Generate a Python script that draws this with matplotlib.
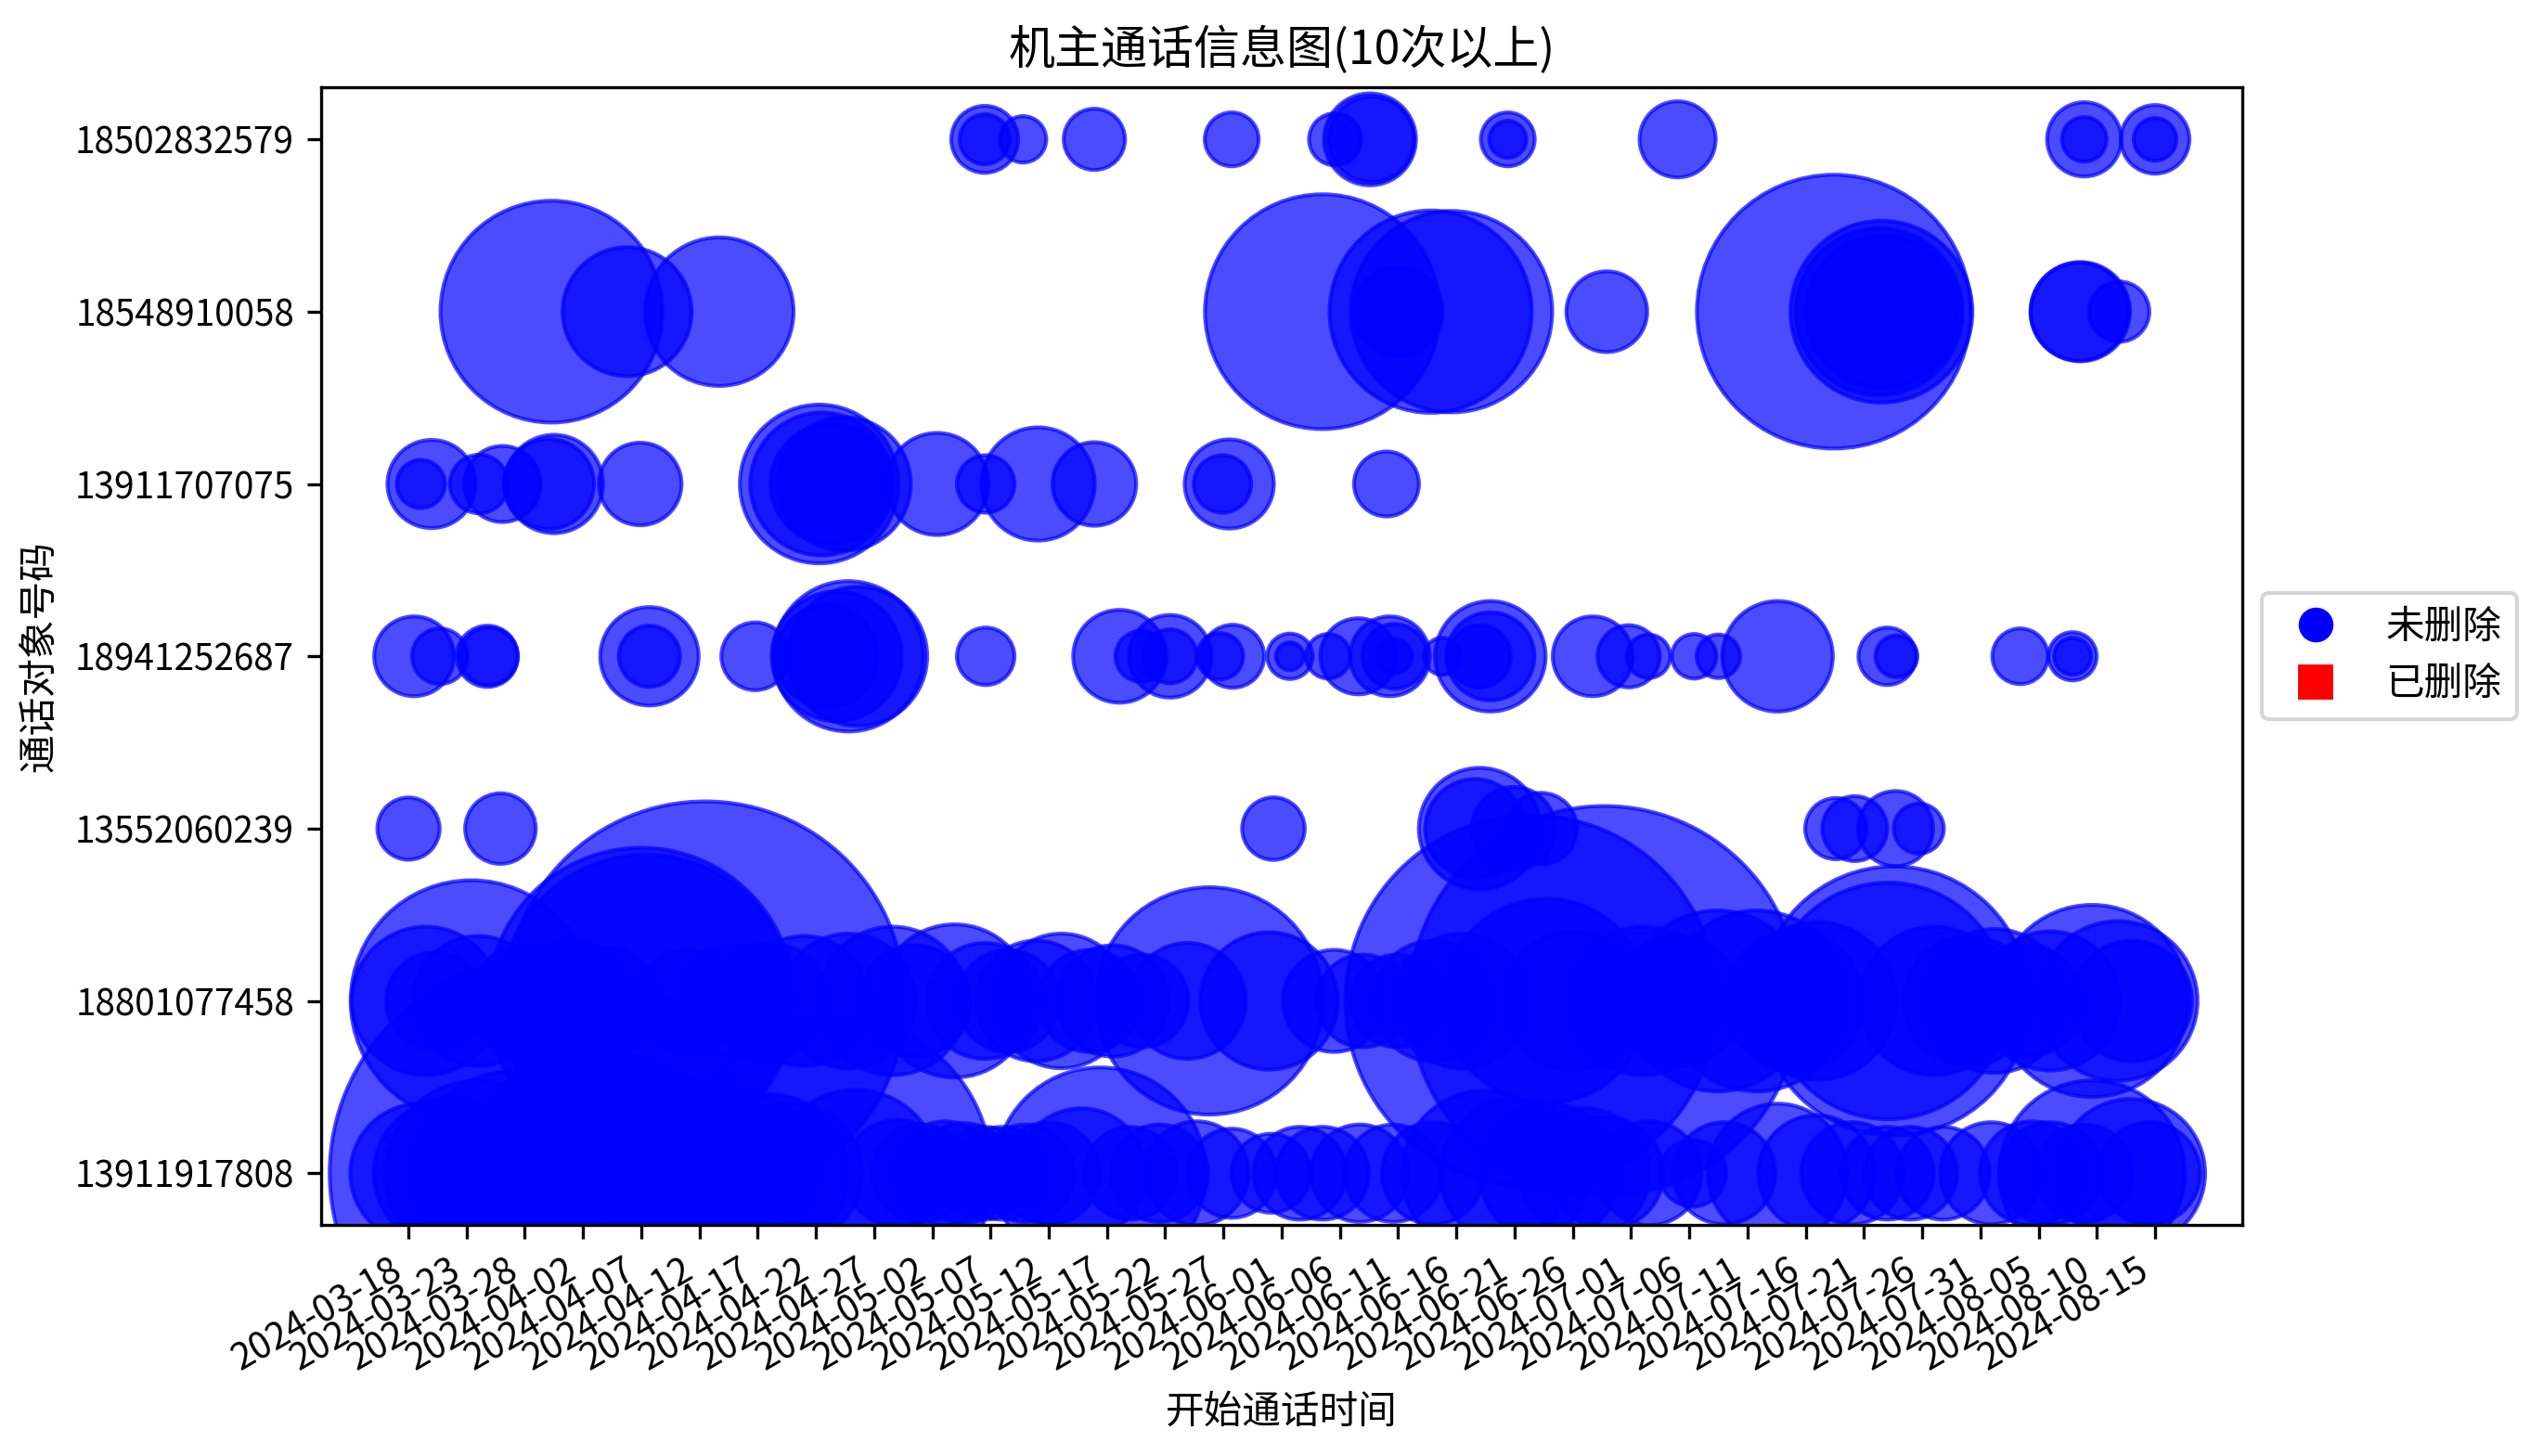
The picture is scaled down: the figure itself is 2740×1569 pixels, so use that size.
import matplotlib
matplotlib.use('Agg')
import pandas as pd
import matplotlib.pyplot as plt
import matplotlib.dates as mdates
from matplotlib.lines import Line2D

plt.rcParams['font.family'] = ['Noto Sans CJK SC', 'DejaVu Sans']
plt.rcParams['axes.unicode_minus'] = False

# called numbers, bottom to top
numbers = ['13911917808', '18801077458', '13552060239', '18941252687',
           '13911707075', '18548910058', '18502832579']

# call start times and bubble sizes per number
t_13911917808 = ['2024-03-19 00:00', '2024-03-21 10:00', '2024-03-24 00:00', '2024-03-27 00:00',
                 '2024-03-29 14:00', '2024-04-01 00:00', '2024-04-04 00:00', '2024-04-07 00:00',
                 '2024-04-11 00:00', '2024-04-15 00:00', '2024-04-18 00:00', '2024-04-20 00:00',
                 '2024-04-23 17:00', '2024-04-25 10:00', '2024-04-29 00:00', '2024-05-01 00:00',
                 '2024-05-03 02:00', '2024-05-04 17:00', '2024-05-06 12:00', '2024-05-08 00:00',
                 '2024-05-10 00:00', '2024-05-12 00:00', '2024-05-14 19:00', '2024-05-16 10:00',
                 '2024-05-19 00:00', '2024-05-21 12:00', '2024-05-24 17:00', '2024-05-27 17:00',
                 '2024-05-31 02:00', '2024-06-02 14:00', '2024-06-04 12:00', '2024-06-07 17:00',
                 '2024-06-10 14:00', '2024-06-14 00:00', '2024-06-18 10:00', '2024-06-21 00:00',
                 '2024-06-24 00:00', '2024-06-27 00:00', '2024-06-29 00:00', '2024-07-02 14:00',
                 '2024-07-06 07:00', '2024-07-09 00:00', '2024-07-13 14:00', '2024-07-16 22:00',
                 '2024-07-20 00:00', '2024-07-23 00:00', '2024-07-25 00:00', '2024-07-27 19:00',
                 '2024-07-31 22:00', '2024-08-04 10:00', '2024-08-06 00:00', '2024-08-08 22:00',
                 '2024-08-09 14:00', '2024-08-12 22:00', '2024-08-14 12:00']
s_13911917808 = [1296, 1475, 2304, 2788, 12188, 3318, 3894, 3047,
                 2304, 1866, 1665, 1296, 6503, 1866, 762, 635,
                 722, 672, 576, 576, 635, 697, 1129, 2994,
                 576, 635, 722, 531, 416, 576, 576, 635,
                 635, 697, 1825, 1475, 1296, 1129, 829, 722,
                 299, 697, 1296, 900, 697, 576, 576, 576,
                 697, 722, 697, 635, 2304, 1475, 697]

t_18801077458 = ['2024-03-19 12:00', '2024-03-20 07:00', '2024-03-23 10:00', '2024-03-24 00:00',
                 '2024-03-28 00:00', '2024-04-01 00:00', '2024-04-04 00:00', '2024-04-07 00:00',
                 '2024-04-07 10:00', '2024-04-11 00:00', '2024-04-12 12:00', '2024-04-15 00:00',
                 '2024-04-18 00:00', '2024-04-21 00:00', '2024-04-24 19:00', '2024-04-28 14:00',
                 '2024-04-30 12:00', '2024-05-03 22:00', '2024-05-06 12:00', '2024-05-08 12:00',
                 '2024-05-10 22:00', '2024-05-13 02:00', '2024-05-15 12:00', '2024-05-17 12:00',
                 '2024-05-20 00:00', '2024-05-23 22:00', '2024-05-25 19:00', '2024-05-30 22:00',
                 '2024-06-05 12:00', '2024-06-08 00:00', '2024-06-10 22:00', '2024-06-14 00:00',
                 '2024-06-16 10:00', '2024-06-22 10:00', '2024-06-23 17:00', '2024-06-26 00:00',
                 '2024-06-28 17:00', '2024-07-02 00:00', '2024-07-05 00:00', '2024-07-08 10:00',
                 '2024-07-11 19:00', '2024-07-15 00:00', '2024-07-17 00:00', '2024-07-23 02:00',
                 '2024-07-23 14:00', '2024-07-27 00:00', '2024-07-30 00:00', '2024-08-01 05:00',
                 '2024-08-04 00:00', '2024-08-06 00:00', '2024-08-09 14:00', '2024-08-11 19:00',
                 '2024-08-13 00:00']
s_18801077458 = [1475, 635, 3894, 1129, 829, 973, 762, 6273,
                 5715, 697, 10650, 829, 900, 1129, 1211, 1475,
                 829, 1568, 900, 697, 973, 1211, 697, 829,
                 576, 900, 3457, 1262, 697, 576, 576, 973,
                 1211, 9216, 2788, 1296, 10161, 1475, 1129, 2190,
                 2190, 1296, 1665, 3745, 4844, 1475, 1129, 1384,
                 829, 1296, 2468, 1704, 973]

t_13552060239 = ['2024-03-18 00:30', '2024-03-25 22:00', '2024-05-31 07:00', '2024-06-17 14:00',
                 '2024-06-18 00:00', '2024-06-20 22:00', '2024-06-23 07:00', '2024-07-18 14:00',
                 '2024-07-20 05:00', '2024-07-23 17:00', '2024-07-25 17:00']
s_13552060239 = [259, 333, 262, 659, 988, 467, 342, 251, 282, 378, 168]

t_18941252687 = ['2024-03-18 12:00', '2024-03-20 17:00', '2024-03-24 19:00', '2024-03-24 22:00',
                 '2024-04-07 17:00', '2024-04-07 17:00', '2024-04-16 19:00', '2024-04-22 22:00',
                 '2024-04-23 19:00', '2024-04-24 19:00', '2024-04-25 14:00', '2024-05-06 14:00',
                 '2024-05-18 02:00', '2024-05-19 22:00', '2024-05-22 10:00', '2024-05-22 10:00',
                 '2024-05-26 17:00', '2024-05-27 19:00', '2024-06-01 17:00', '2024-06-01 17:00',
                 '2024-06-05 00:00', '2024-06-07 14:00', '2024-06-10 07:00', '2024-06-10 17:00',
                 '2024-06-10 17:00', '2024-06-14 19:00', '2024-06-18 00:00', '2024-06-18 22:00',
                 '2024-06-18 22:00', '2024-06-27 17:00', '2024-06-30 19:00', '2024-07-02 12:00',
                 '2024-07-06 10:00', '2024-07-08 12:00', '2024-07-13 14:00', '2024-07-23 00:00',
                 '2024-07-23 19:00', '2024-08-03 10:00', '2024-08-07 22:00', '2024-08-07 22:00']
s_18941252687 = [426, 207, 251, 221, 647, 251, 307, 697,
                 1129, 1512, 1296, 221, 576, 174, 456, 194,
                 144, 266, 138, 52, 133, 387, 426, 282,
                 79, 92, 259, 816, 520, 426, 259, 127,
                 133, 127, 816, 221, 117, 207, 156, 92]

t_13911707075 = ['2024-03-19 02:00', '2024-03-20 00:00', '2024-03-24 02:00', '2024-03-26 02:00',
                 '2024-03-30 02:00', '2024-03-30 12:00', '2024-04-06 22:00', '2024-04-22 07:00',
                 '2024-04-22 12:00', '2024-04-23 07:00', '2024-04-24 10:00', '2024-05-02 10:00',
                 '2024-05-06 14:00', '2024-05-11 02:00', '2024-05-15 22:00', '2024-05-26 22:00',
                 '2024-05-27 12:00', '2024-06-10 00:00']
s_13911707075 = [156, 520, 229, 387, 542, 647, 456, 1684,
                 1366, 973, 1194, 697, 221, 857, 467, 221,
                 531, 282]

t_18548910058 = ['2024-03-30 07:00', '2024-04-05 19:00', '2024-04-13 17:00', '2024-06-04 12:00',
                 '2024-06-11 00:00', '2024-06-13 19:00', '2024-06-15 14:00', '2024-06-28 22:00',
                 '2024-07-18 10:00', '2024-07-22 12:00', '2024-07-22 07:00', '2024-07-22 14:00',
                 '2024-08-08 14:00', '2024-08-08 12:00', '2024-08-11 22:00']
s_18548910058 = [3290, 1113, 1475, 3687, 531, 2737, 2712, 436,
                 5013, 2213, 1866, 1568, 659, 640, 243]

t_18502832579 = ['2024-05-06 12:00', '2024-05-06 12:00', '2024-05-09 19:00', '2024-05-15 22:00',
                 '2024-05-27 17:00', '2024-06-05 14:00', '2024-06-08 14:00', '2024-06-08 17:00',
                 '2024-06-20 10:00', '2024-06-20 10:00', '2024-07-05 00:00', '2024-08-08 22:00',
                 '2024-08-08 22:00', '2024-08-15 00:00', '2024-08-15 00:00']
s_18502832579 = [300, 168, 144, 251, 194, 181, 565, 488,
                 194, 92, 387, 369, 133, 315, 122]

rows = [(t_13911917808, s_13911917808), (t_18801077458, s_18801077458),
        (t_13552060239, s_13552060239), (t_18941252687, s_18941252687),
        (t_13911707075, s_13911707075), (t_18548910058, s_18548910058),
        (t_18502832579, s_18502832579)]

fig = plt.figure(figsize=(2740 / 300, 1569 / 300), dpi=300)
ax = fig.add_axes([0.1263, 0.1587, 0.7555, 0.7811])

for i, (times, sizes) in enumerate(rows):
    ax.scatter(pd.to_datetime(times), [i] * len(times), s=sizes, c='blue', alpha=0.7)

ax.set_yticks(range(len(numbers)))
ax.set_yticklabels(numbers, fontsize=9.3)
ax.set_xticks(pd.date_range('2024-03-18', '2024-08-15', freq='5D'))
ax.xaxis.set_major_formatter(mdates.DateFormatter('%Y-%m-%d'))
plt.setp(ax.get_xticklabels(), rotation=30, ha='right', fontsize=9.5)

ax.set_title('机主通话信息图(10次以上)')
ax.set_xlabel('开始通话时间')
ax.set_ylabel('通话对象号码')

handles = [Line2D([0], [0], marker='o', color='w', markerfacecolor='blue', markersize=10, label='未删除'),
           Line2D([0], [0], marker='s', color='w', markerfacecolor='red', markersize=10, label='已删除')]
ax.legend(handles=handles, loc='center left', bbox_to_anchor=(1, 0.5))

fig.savefig('out.png', dpi=300)
